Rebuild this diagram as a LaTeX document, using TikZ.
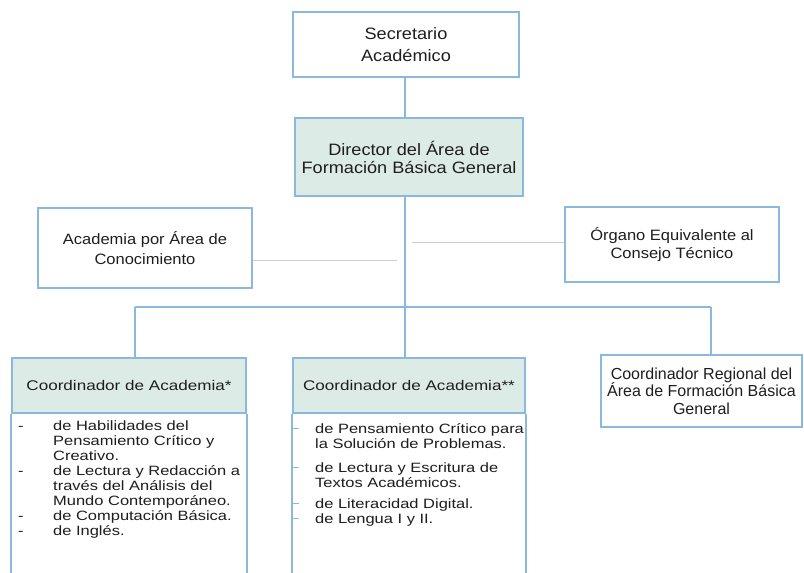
\documentclass[tikz,border=0pt]{standalone}
\usepackage{fontspec}
\setmainfont{Liberation Sans}
\newfontfamily\fw{Liberation Sans}[FakeStretch=1.1]
\newfontfamily\fb{Liberation Sans}[FakeStretch=1.22]
\definecolor{bl}{RGB}{138,184,222}
\definecolor{hd}{RGB}{221,235,230}
\definecolor{gl}{RGB}{205,205,205}
\definecolor{tx}{RGB}{30,30,30}
\begin{document}
\begin{tikzpicture}[x=1pt,y=-1pt,
  box/.style={draw=bl, line width=1.8pt, inner sep=0pt, align=center, text=tx},
  conn/.style={draw=bl, line width=1.6pt},
  side/.style={draw=gl, line width=1pt},
  tick/.style={draw=bl, line width=1pt},
  itm/.style={anchor=base west, inner sep=0pt, text=tx, font=\fb\fontsize{13.5}{15}\selectfont},
  hdr/.style={box, fill=hd, minimum height=55pt, font=\fb\fontsize{14}{16}\selectfont},
]
\useasboundingbox (0,0) rectangle (804,573);
\fill[white] (0,0) rectangle (804,573);

% top boxes
\node[box, minimum width=226pt, minimum height=65pt, font=\fw\fontsize{16.5}{22}\selectfont] (sec) at (406,44.5) {Secretario\\Académico};
\node[box, fill=hd, minimum width=228pt, minimum height=78pt, font=\fw\fontsize{16.5}{18}\selectfont] (dir) at (409,157) {Director del Área de\\Formación Básica General};
\node[box, minimum width=214pt, minimum height=80pt, font=\fw\fontsize{15}{20}\selectfont] (aca) at (145,248) {Academia por Área de\\Conocimiento};
\node[box, minimum width=214pt, minimum height=75pt, font=\fw\fontsize{15}{18}\selectfont] (org) at (672,244.5) {Órgano Equivalente al\\Consejo Técnico};
\node[box, minimum width=201pt, minimum height=72pt, font=\fontsize{16}{17.5}\selectfont] (reg) at (701.5,391) {Coordinador Regional del\\Área de Formación Básica\\General};

% bottom headers
\node[hdr, minimum width=234pt] (hl) at (129,385.5) {\raisebox{-6pt}{Coordinador de Academia*}};
\node[hdr, minimum width=232pt] (hm) at (409,385.5) {\raisebox{-3.5pt}{Coordinador de Academia**}};

% connectors
\coordinate (j) at (405,307);
\coordinate (jl) at (135,307);
\coordinate (jr) at (711,307);
\coordinate (ga) at (397,260);
\coordinate (go) at (412,242);
\draw[conn] (sec.south -| j) -- (dir.north -| j);
\draw[conn] (dir.south -| j) -- (j);
\draw[conn] (jl) -- (jr);
\draw[conn] (jl) -- (jl |- hl.north);
\draw[conn] (j) -- (j |- hm.north);
\draw[conn] (jr) -- (jr |- reg.north);
\draw[side] (ga -| aca.east) -- (ga);
\draw[side] (go) -- (go -| org.west);

% box bodies
\draw[conn] (hl.south west) -- (hl.south west |- 0,574);
\draw[conn] (hl.south east) -- (hl.south east |- 0,574);
\draw[conn] (hm.south west) -- (hm.south west |- 0,574);
\draw[conn] (hm.south east) -- (hm.south east |- 0,574);

% left list
\foreach \yy in {425,470,515,530} \node[itm] (d\yy) at (18,\yy+5) {-};
\foreach \t/\yy [count=\i] in {{de Habilidades del}/425, {Pensamiento Crítico y}/440, {Creativo.}/455, {de Lectura y Redacción a}/470, {través del Análisis del}/485, {Mundo Contemporáneo.}/500, {de Computación Básica.}/515, {de Inglés.}/530}
  \node[itm] (l\i) at (53,\yy+5) {\t};

% middle list
\foreach \yy in {428,467,503,518} \draw[tick] (hm.south west |- 0,\yy) -- ++(7,0);
\foreach \t/\yy [count=\i] in {{de Pensamiento Crítico para}/428, {la Solución de Problemas.}/443, {de Lectura y Escritura de}/467, {Textos Académicos.}/482, {de Literacidad Digital.}/503, {de Lengua I y II.}/518}
  \node[itm] (m\i) at (315,\yy+5) {\t};
\end{tikzpicture}
\end{document}
